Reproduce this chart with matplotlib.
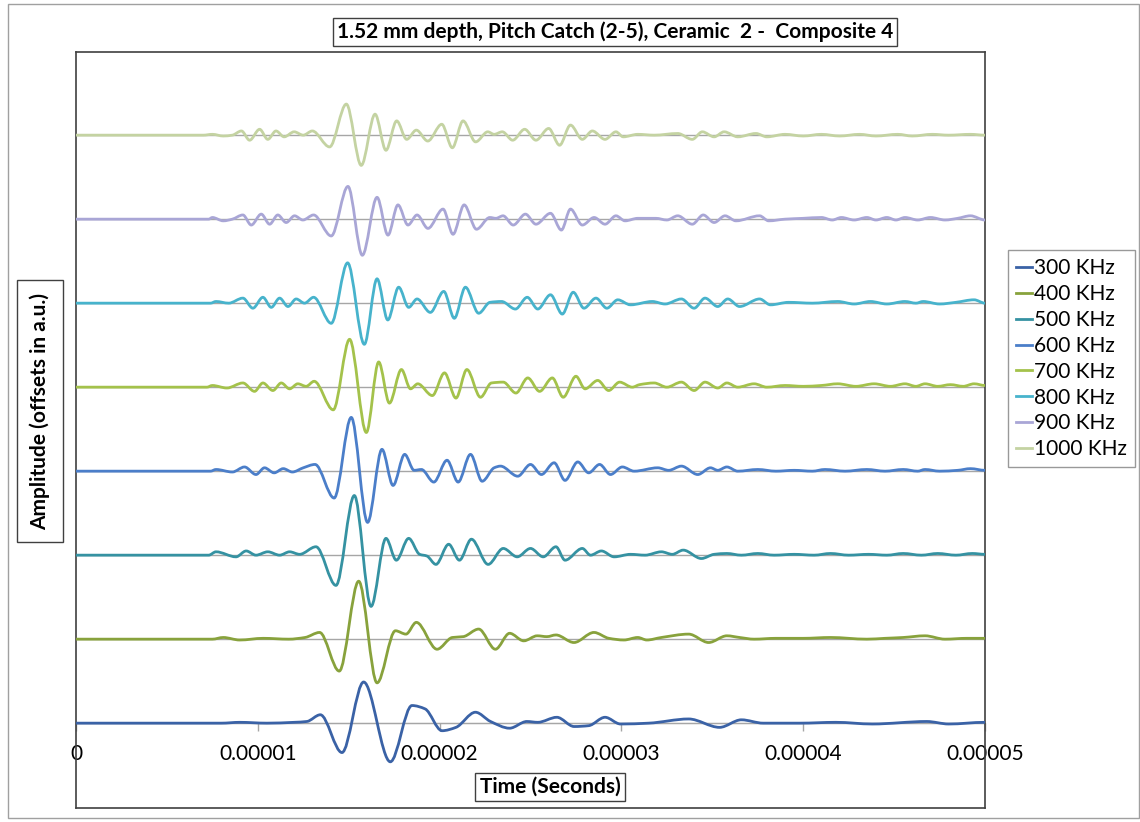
import numpy as np
import matplotlib
matplotlib.use('Agg')
import matplotlib.pyplot as plt
from matplotlib.patches import Rectangle, PathPatch
from matplotlib.path import Path
from matplotlib.lines import Line2D

plt.rcParams['font.family'] = ['Lato', 'DejaVu Sans']

# waveforms: (time in microseconds, amplitude in a.u.)
w300 = [(0, 0), (8.0, 0), (9.0, 0.01), (10.5, 0), (12.0, 0.01), (12.7, 0.02), (13.44, 0.10),
        (14.63, -0.35), (15.82, 0.49), (17.29, -0.46), (18.48, 0.21), (19.2, 0.17), (20.13, -0.09),
        (20.9, -0.05), (21.97, 0.13), (22.8, 0.02), (23.85, -0.06), (24.8, 0.02), (25.4, 0.01),
        (26.45, 0.07), (27.4, -0.04), (28.2, -0.03), (29.1, 0.07), (29.95, -0.01), (31.5, 0),
        (33.7, 0.05), (35.4, -0.05), (36.6, 0.04), (37.8, 0), (39.8, 0), (41.8, 0.01),
        (43.8, -0.01), (46.8, 0.02), (48.0, -0.01), (50.0, 0.01)]
w400 = [(0, 0), (7.5, 0), (8.1, 0.02), (9.0, -0.01), (10.3, 0.01), (11.7, 0), (12.6, 0.02),
        (13.4, 0.08), (14.48, -0.38), (15.55, 0.69), (16.56, -0.52), (17.57, 0.10), (18.15, 0.06),
        (18.72, 0.20), (19.86, -0.12), (20.7, 0.02), (21.3, 0.03), (22.15, 0.12), (23.07, -0.12),
        (23.85, 0.07), (24.63, -0.02), (25.37, 0.04), (25.9, 0.03), (26.4, 0.05), (27.39, -0.04),
        (28.49, 0.08), (29.31, 0.01), (30.14, -0.01), (30.9, 0.02), (31.4, -0.01), (32.2, 0.02),
        (33.7, 0.06), (34.8, -0.04), (35.8, 0.04), (36.5, 0.02), (37.3, 0), (38.5, 0.01),
        (40.0, 0.01), (41.5, 0.02), (43.5, 0), (44.5, 0.01), (45.5, 0.02), (46.7, 0.04),
        (47.8, 0), (49.0, 0.01), (50.0, 0.01)]
w500 = [(0, 0), (7.3, 0), (7.7, 0.04), (8.8, -0.02), (9.36, 0.05), (9.9, 0), (10.55, 0.04),
        (11.2, 0), (11.75, 0.04), (12.3, 0.01), (13.2, 0.10), (14.3, -0.36), (15.31, 0.71),
        (16.23, -0.61), (17.05, 0.20), (17.62, -0.06), (18.3, 0.20), (18.9, 0.01), (19.3, -0.01),
        (19.8, -0.11), (20.5, 0.13), (21.09, -0.06), (21.75, 0.19), (22.67, -0.11), (23.5, 0.08),
        (24.27, -0.02), (25.0, 0.08), (25.7, -0.02), (26.4, 0.10), (26.9, -0.06), (27.85, 0.08),
        (28.3, 0), (28.9, 0.05), (29.6, -0.02), (30.5, 0.01), (31.3, 0), (32.2, 0.04),
        (32.8, 0.01), (33.4, 0.06), (34.4, -0.04), (35.1, 0.01), (35.8, 0.02), (36.6, 0),
        (37.5, 0.02), (38.4, 0), (39.5, 0.01), (40.6, 0), (41.5, 0.02), (42.5, 0), (43.6, 0.01),
        (44.6, 0), (45.5, 0.02), (46.5, 0), (47.4, 0.02), (48.4, 0), (49.3, 0.02), (50.0, 0.01)]
w600 = [(0, 0), (7.4, 0), (7.7, 0.02), (8.6, -0.01), (9.27, 0.05), (9.9, -0.04), (10.37, 0.04),
        (10.9, -0.02), (11.4, 0.03), (11.9, -0.01), (12.5, 0.04), (13.15, 0.08), (14.2, -0.32),
        (15.14, 0.64), (16.04, -0.61), (16.83, 0.26), (17.44, -0.17), (18.08, 0.20), (18.6, 0.01),
        (19.0, 0.02), (19.68, -0.13), (20.41, 0.13), (21.02, -0.13), (21.7, 0.20), (22.34, -0.12),
        (23.0, 0.04), (23.35, 0.06), (24.3, -0.06), (25.0, 0.08), (25.6, -0.04), (26.3, 0.10),
        (26.9, -0.11), (27.6, 0.11), (28.2, -0.02), (28.8, 0.08), (29.4, -0.04), (30.05, 0.05),
        (30.7, 0), (32.0, 0.04), (32.6, 0.01), (33.3, 0.06), (34.2, -0.04), (34.9, 0.04),
        (35.3, 0.01), (35.8, 0.05), (36.4, 0), (37.5, 0.02), (38.5, 0), (39.5, 0.01), (40.5, 0),
        (41.2, 0.02), (42.3, 0), (43.5, 0.02), (44.5, 0), (45.5, 0.02), (46.3, 0), (46.7, 0.02),
        (47.5, 0), (48.5, 0.01), (49.2, 0.03), (50.0, 0.01)]
w700 = [(0, 0), (7.2, 0), (7.5, 0.02), (8.3, -0.01), (9.18, 0.05), (9.82, -0.05), (10.28, 0.05),
        (10.83, -0.04), (11.29, 0.05), (11.75, -0.02), (12.2, 0.04), (12.66, 0.01), (13.1, 0.07),
        (14.15, -0.27), (15.05, 0.57), (15.97, -0.54), (16.65, 0.30), (17.24, -0.19), (17.9, 0.21),
        (18.4, -0.02), (18.8, 0.04), (19.6, -0.10), (20.27, 0.17), (20.9, -0.13), (21.5, 0.21),
        (22.25, -0.12), (22.85, 0.05), (23.5, 0.06), (24.2, -0.07), (24.85, 0.11), (25.5, -0.05),
        (26.2, 0.11), (26.8, -0.12), (27.5, 0.13), (28.0, -0.02), (28.7, 0.08), (29.3, -0.04),
        (29.9, 0.06), (30.6, 0), (31.0, 0.03), (31.8, 0.05), (32.5, 0), (33.3, 0.06), (34.0, -0.04),
        (34.6, 0.06), (35.3, -0.01), (35.8, 0.05), (36.4, 0), (37.3, 0.04), (38.0, 0), (39.0, 0.02),
        (40.0, 0.01), (41.0, 0.02), (41.9, 0.04), (42.9, 0.01), (43.9, 0.04), (44.8, 0.01),
        (45.6, 0.04), (46.2, 0.01), (46.7, 0.04), (47.4, 0.01), (48.1, 0.03), (48.8, 0.01),
        (49.4, 0.04), (50.0, 0.02)]
w800 = [(0, 0), (7.4, 0), (7.7, 0.02), (8.4, 0), (9.18, 0.06), (9.73, -0.06), (10.28, 0.07),
        (10.74, -0.05), (11.2, 0.06), (11.66, -0.04), (12.11, 0.05), (12.57, 0), (13.07, 0.07),
        (14.04, -0.24), (14.94, 0.48), (15.86, -0.49), (16.56, 0.29), (17.15, -0.20), (17.75, 0.19),
        (18.3, -0.05), (18.76, 0.05), (19.49, -0.11), (20.23, 0.14), (20.81, -0.18), (21.42, 0.19),
        (22.15, -0.12), (22.77, 0.01), (23.41, 0.02), (24.17, -0.07), (24.82, 0.07), (25.4, -0.07),
        (26.1, 0.10), (26.75, -0.13), (27.35, 0.13), (27.94, -0.06), (28.6, 0.06), (29.2, -0.06),
        (29.8, 0.04), (30.5, -0.02), (31.7, 0.02), (32.4, -0.01), (33.3, 0.05), (34.0, -0.06),
        (34.6, 0.06), (35.3, -0.04), (35.85, 0.05), (36.5, -0.04), (37.6, 0.05), (38.2, -0.02),
        (39.2, 0.01), (40.5, 0), (41.9, 0.02), (42.8, -0.01), (43.7, 0.02), (44.6, -0.01),
        (45.6, 0.02), (46.2, 0), (46.6, 0.02), (47.5, -0.01), (48.4, 0.01), (49.4, 0.04), (50.0, 0)]
w900 = [(0, 0), (7.3, 0), (7.5, 0.02), (8.1, -0.02), (8.6, 0), (9.18, 0.05), (9.64, -0.07),
        (10.19, 0.06), (10.65, -0.06), (11.1, 0.05), (11.56, -0.04), (12.02, 0.04), (12.48, -0.01),
        (13.07, 0.05), (14.04, -0.20), (14.96, 0.39), (15.75, -0.43), (16.56, 0.26), (17.16, -0.19),
        (17.71, 0.17), (18.26, -0.07), (18.76, 0.05), (19.36, -0.11), (20.19, 0.12), (20.74, -0.18),
        (21.35, 0.17), (22.03, -0.12), (22.76, 0.02), (23.1, 0.01), (23.49, 0.04), (24.05, -0.07),
        (24.72, 0.06), (25.3, -0.06), (26.1, 0.07), (26.7, -0.13), (27.2, 0.12), (27.85, -0.07),
        (28.5, 0.02), (29.1, -0.06), (29.7, 0.04), (30.2, -0.02), (30.9, 0.01), (31.9, 0.01),
        (32.5, -0.01), (33.1, 0.04), (33.9, -0.06), (34.5, 0.05), (35.1, -0.04), (35.7, 0.04),
        (36.3, -0.02), (37.6, 0.04), (38.1, -0.02), (39.0, 0), (40.0, 0.01), (41.0, 0.02),
        (41.6, -0.01), (42.1, 0.02), (42.8, -0.01), (43.5, 0.02), (44.0, -0.01), (44.6, 0.02),
        (45.1, -0.01), (45.6, 0.02), (46.3, -0.01), (47.0, 0.02), (47.8, -0.01), (48.5, 0.01),
        (49.2, 0.04), (50.0, -0.01)]
w1000 = [(0, 0), (7.0, 0), (7.5, 0.01), (8.1, -0.01), (8.6, 0), (9.1, 0.05), (9.55, -0.06),
         (10.1, 0.07), (10.55, -0.05), (11.0, 0.05), (11.45, -0.02), (12.0, 0.04), (12.5, 0),
         (13.0, 0.05), (13.95, -0.14), (14.87, 0.37), (15.69, -0.36), (16.45, 0.25), (17.05, -0.18),
         (17.64, 0.17), (18.19, -0.05), (18.72, 0.06), (19.35, -0.07), (20.12, 0.13), (20.7, -0.15),
         (21.29, 0.17), (21.98, -0.08), (22.65, 0.04), (23.0, 0.01), (23.45, 0.04), (24.02, -0.06),
         (24.68, 0.07), (25.3, -0.06), (26.0, 0.08), (26.6, -0.12), (27.2, 0.12), (27.85, -0.05),
         (28.4, 0.05), (29.1, -0.05), (29.7, 0.04), (30.1, -0.02), (30.9, 0.01), (31.8, 0),
         (33.1, 0.02), (33.9, -0.05), (34.45, 0.04), (35.1, -0.02), (35.65, 0.04), (36.4, -0.02),
         (37.4, 0.02), (38.0, -0.02), (39.0, 0.01), (40.0, -0.01), (41.0, 0.01), (42.0, -0.01),
         (43.1, 0.01), (44.0, -0.01), (45.2, 0.01), (46.0, -0.01), (47.1, 0.01), (48.0, 0),
         (49.2, 0.01), (50.0, 0)]

labels = ['300 KHz', '400 KHz', '500 KHz', '600 KHz', '700 KHz', '800 KHz', '900 KHz', '1000 KHz']
offsets = [0, 1, 2, 3, 4, 5, 6, 7]
waves = [w300, w400, w500, w600, w700, w800, w900, w1000]
colors = ['#3A62A6', '#88A23C', '#3592A2', '#4B7EC9', '#A4C24B', '#47B3CC', '#A9A6D6', '#C4D3A2']

xticks = [0, 1e-5, 2e-5, 3e-5, 4e-5, 5e-5]
xticklabels = ['0', '0.00001', '0.00002', '0.00003', '0.00004', '0.00005']


def smooth_path(x, y):
    # smoothed line like Excel: cubic bezier through the read points,
    # flat tangents at turning points
    n = len(x)
    m = np.zeros(n)
    for i in range(1, n - 1):
        d0 = (y[i] - y[i - 1]) / (x[i] - x[i - 1])
        d1 = (y[i + 1] - y[i]) / (x[i + 1] - x[i])
        if d0 * d1 > 0:
            m[i] = 2 * d0 * d1 / (d0 + d1)
    verts = [(x[0], y[0])]
    codes = [Path.MOVETO]
    for i in range(n - 1):
        h = x[i + 1] - x[i]
        verts += [(x[i] + h / 3, y[i] + m[i] * h / 3),
                  (x[i + 1] - h / 3, y[i + 1] - m[i + 1] * h / 3),
                  (x[i + 1], y[i + 1])]
        codes += [Path.CURVE4] * 3
    return Path(verts, codes)


fig = plt.figure(figsize=(11.4, 8.22), dpi=100)
ax = fig.add_axes([76 / 1140, 14 / 822, 909 / 1140, 756 / 822])

handles = []
for w, off, c, lab in zip(waves, offsets, colors, labels):
    t = np.array([p[0] for p in w]) * 1e-6
    a = np.array([p[1] for p in w]) + off
    ax.add_patch(PathPatch(smooth_path(t, a), fill=False, ec=c, lw=2.0,
                           joinstyle='round', capstyle='round', zorder=3))
    handles.append(Line2D([], [], color=c, lw=2.0, label=lab))

ax.set_xlim(0, 5e-5)
ax.set_ylim(-1.01, 7.99)
ax.set_yticks(range(0, 8))
ax.yaxis.grid(True, color='#A6A6A6', lw=1)
ax.set_axisbelow(True)
ax.tick_params(bottom=False, labelbottom=False, left=False, labelleft=False)
for s in ax.spines.values():
    s.set_color('#404040')
    s.set_linewidth(1.2)

# x axis drawn at y = 0
sec = ax.secondary_xaxis(0, transform=ax.transData)
sec.set_xticks(xticks, xticklabels)
sec.spines['bottom'].set_color('#A6A6A6')
sec.tick_params(direction='out', length=6, width=1, color='#A6A6A6', pad=9, labelsize=15)

leg = ax.legend(handles=handles, loc='upper left',
                bbox_to_anchor=((1008 - 76) / 909, 1 - (250 - 52) / 756),
                frameon=True, fancybox=False, edgecolor='#808080', fontsize=15,
                handlelength=0.75, handletextpad=0.1, labelspacing=0.28, borderpad=0.4,
                borderaxespad=0)
leg.get_frame().set_linewidth(1)

bbox = dict(boxstyle='square,pad=0.2', fc='white', ec='#404040', lw=1)
fig.text(615 / 1140, 1 - 32 / 822, '1.52 mm depth, Pitch Catch (2-5), Ceramic  2 -  Composite 4',
         ha='center', va='center', fontsize=15, fontweight='bold', bbox=bbox)
fig.text(550 / 1140, 1 - 787 / 822, 'Time (Seconds)', ha='center', va='center',
         fontsize=15, fontweight='bold', bbox=bbox)
fig.text(40 / 1140, 1 - 411 / 822, 'Amplitude (offsets in a.u.)', ha='center', va='center',
         rotation=90, fontsize=15, fontweight='bold',
         bbox=dict(boxstyle='square,pad=0.6', fc='white', ec='#404040', lw=1))

fig.patches.append(Rectangle((8 / 1140, 4 / 822), 1131 / 1140, 814 / 822, transform=fig.transFigure,
                             fill=False, ec='#A0A0A0', lw=1))

fig.savefig('out.png', dpi=100)
